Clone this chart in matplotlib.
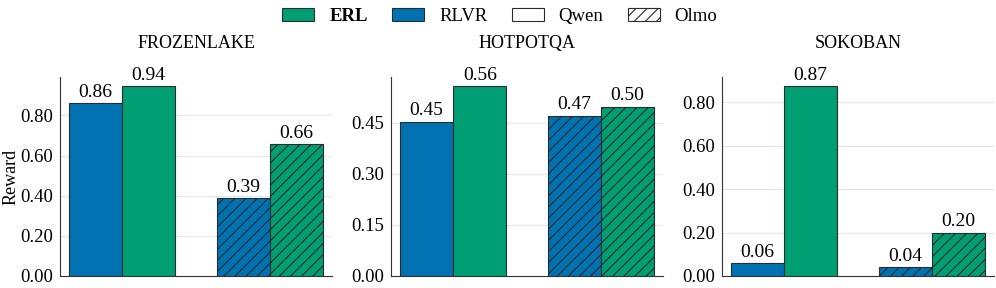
import numpy as np
import matplotlib.pyplot as plt
from matplotlib.patches import Patch

plt.rcParams['font.family'] = ['Liberation Serif', 'DejaVu Serif']
plt.rcParams['font.size'] = 13
plt.rcParams['hatch.linewidth'] = 0.8
plt.rcParams['hatch.color'] = '#1a1a1a'

TASKS = ['FROZENLAKE', 'HOTPOTQA', 'SOKOBAN']
MODELS = ['Qwen', 'Olmo']
RLVR = [[0.86, 0.388], [0.453, 0.47], [0.058, 0.041]]
ERL = [[0.944, 0.656], [0.556, 0.496], [0.873, 0.20]]
YTICKS = [[0.0, 0.2, 0.4, 0.6, 0.8],
          [0.0, 0.15, 0.30, 0.45],
          [0.0, 0.2, 0.4, 0.6, 0.8]]

BLUE = '#0072B2'
GREEN = '#009E73'
EDGE = '#2b2b2b'
WIDTH = 0.36

fig = plt.figure(figsize=(9.96, 2.88), dpi=100)
lefts = [60, 391, 722]
for k in range(3):
    ax = fig.add_axes([lefts[k] / 996, 12 / 288, 272 / 996, 199 / 288])
    x = np.arange(len(MODELS))
    hatches = ['', '///']
    for j in range(len(MODELS)):
        b1 = ax.bar(x[j] - WIDTH / 2, RLVR[k][j], WIDTH, color=BLUE,
                    edgecolor=EDGE, linewidth=0.8, hatch=hatches[j], zorder=3)
        b2 = ax.bar(x[j] + WIDTH / 2, ERL[k][j], WIDTH, color=GREEN,
                    edgecolor=EDGE, linewidth=0.8, hatch=hatches[j], zorder=3)
        for b in [b1, b2]:
            r = b[0]
            ax.text(r.get_x() + r.get_width() / 2, r.get_height() + 0.012 * max(ERL[k]) / 0.9,
                    '%.2f' % r.get_height(), ha='center', va='bottom', fontsize=14)
    ymax = max(max(ERL[k]), max(RLVR[k])) * 1.05
    ax.set_ylim(0, ymax)
    ax.set_xlim(-0.42, 1.42)
    ax.set_yticks(YTICKS[k])
    ax.set_yticklabels(['%.2f' % t for t in YTICKS[k]])
    ax.set_xticks([])
    ax.yaxis.grid(True, color='#e6e6e6', linewidth=0.8, zorder=0)
    ax.set_axisbelow(True)
    for s in ['top', 'right']:
        ax.spines[s].set_visible(False)
    for s in ['left', 'bottom']:
        ax.spines[s].set_color('#333333')
        ax.spines[s].set_linewidth(0.8)
    ax.tick_params(axis='y', length=0, pad=5, labelsize=13.5)
    ax.set_title(TASKS[k], fontsize=13, pad=21)
    if k == 0:
        ax.set_ylabel('Reward', fontsize=13)
        ax.yaxis.set_label_coords(-0.15, 0.5)

handles = [Patch(facecolor=GREEN, edgecolor=EDGE, linewidth=0.8),
           Patch(facecolor=BLUE, edgecolor=EDGE, linewidth=0.8),
           Patch(facecolor='white', edgecolor=EDGE, linewidth=0.8),
           Patch(facecolor='white', edgecolor=EDGE, linewidth=0.8, hatch='///')]
leg = fig.legend(handles, ['ERL', 'RLVR', 'Qwen', 'Olmo'], loc='upper center',
                 bbox_to_anchor=(0.502, 1.03), ncol=4, frameon=False, fontsize=13.5,
                 handlelength=1.7, handleheight=0.65, columnspacing=1.3, handletextpad=0.8)
leg.get_texts()[0].set_fontweight('bold')

fig.savefig('out.png', dpi=100)
